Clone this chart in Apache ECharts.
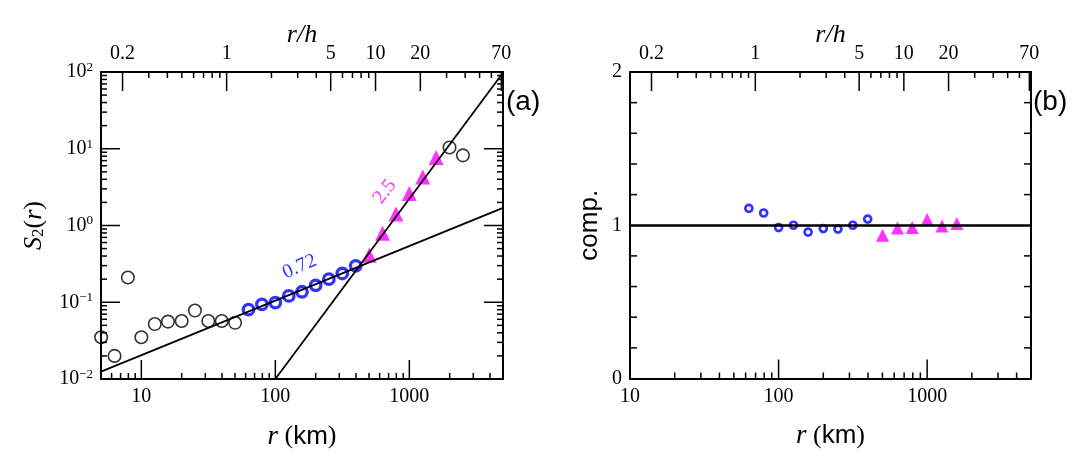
<!DOCTYPE html>
<html>
<head>
<meta charset="utf-8">
<script src="https://cdn.jsdelivr.net/npm/echarts@6.0.0/dist/echarts.min.js"></script>
<style>
    html, body { margin: 0; padding: 0; background: #fff; }
    #chart { width: 1084px; height: 458px; }
</style>
</head>
<body>
<div id="chart"></div>
<script>
// 数据：r (km) 与 S2(r)
const blackR = [5.01, 6.31, 7.94, 10.0, 12.6, 15.8, 20.0, 25.1, 31.6, 39.8, 50.1, 1995, 2512];
const blackS2 = [0.035, 0.020, 0.21, 0.035, 0.052, 0.056, 0.057, 0.078, 0.057, 0.057, 0.054, 10.4, 8.2];
const blueR = [63.1, 79.4, 100, 126, 158, 200, 251, 316, 398];
const blueS2 = [0.080, 0.094, 0.099, 0.121, 0.137, 0.166, 0.200, 0.237, 0.298];
const pinkR = [501, 631, 794, 1000, 1259, 1585];
const pinkS2 = [0.41, 0.79, 1.41, 2.62, 4.30, 7.71];

// 拟合直线 (端点)
const fitSmallR = [5, 5000];
const fitSmallS2 = [0.0125, 1.7];
const fitLargeR = [100, 5000];
const fitLargeS2 = [0.01, 98];

// (b) 补偿后的值
const blueComp = [1.11, 1.08, 0.985, 1.0, 0.955, 0.978, 0.975, 1.0, 1.04];
const pinkComp = [0.935, 0.982, 0.985, 1.037, 0.995, 1.011];
const unityLevel = 1;

// 刻度
const rMajor = [10, 100, 1000];
const rMinor = [6, 7, 8, 9, 20, 30, 40, 50, 60, 70, 80, 90, 200, 300, 400, 500, 600, 700, 800, 900, 2000, 3000, 4000];
const rhMajor = [0.2, 1, 5, 10, 20, 70];
const rhMinor = [0.3, 0.4, 0.5, 0.6, 0.7, 0.8, 0.9, 2, 3, 4, 6, 7, 8, 9, 30, 40, 50, 60];
const s2Major = [0.01, 0.1, 1, 10, 100];
const s2Minor = [0.02, 0.03, 0.04, 0.05, 0.06, 0.07, 0.08, 0.09,
                 0.2, 0.3, 0.4, 0.5, 0.6, 0.7, 0.8, 0.9,
                 2, 3, 4, 5, 6, 7, 8, 9,
                 20, 30, 40, 50, 60, 70, 80, 90];
const compLabels = [0, 1, 2];
const compTicks = [0.2, 0.4, 0.6, 0.8, 1.2, 1.4, 1.6, 1.8];

const SERIF = 'Liberation Serif';
const SANS = 'Liberation Sans';

// 两个面板的绘图区
const gridA = { left: 101, top: 72, width: 402, height: 307 };
const gridB = { left: 630, top: 72, width: 401, height: 306.5 };

// 各轴范围
const rRangeA = [5, 5000];
const rRangeB = [10, 5000];
const rhRange = [0.1433, 71.8];
const s2Range = [0.01, 100];
const compRange = [0, 2];

function frameLine() {
    return { show: true, onZero: false, lineStyle: { color: '#000', width: 2 } };
}

function zip(xs, ys) {
    return xs.map((x, i) => [x, ys[i]]);
}

// 对数轴 (只画边框和标签，刻度线另外画)
function logAxis(gridIndex, position, range, labels, formatter) {
    return {
        type: 'log',
        logBase: 10,
        gridIndex: gridIndex,
        position: position,
        min: range[0],
        max: range[1],
        axisLine: frameLine(),
        axisTick: { show: false },
        axisLabel: labels ? {
            show: true,
            customValues: labels,
            margin: 8,
            color: '#000',
            fontFamily: SERIF,
            fontSize: 20,
            formatter: formatter || (v => String(v)),
            rich: {
                b: { fontFamily: SERIF, fontSize: 20, color: '#000', lineHeight: 22 },
                e: { fontFamily: SERIF, fontSize: 13, color: '#000', verticalAlign: 'top' }
            }
        } : { show: false },
        splitLine: { show: false }
    };
}

function powerLabel(v) {
    const e = Math.round(Math.log10(v));
    return '{b|10}{e|' + (e < 0 ? '\u2212' + (-e) : e) + '}';
}

// (b) 的线性纵轴
function compAxis(position, withLabels) {
    return {
        type: 'value',
        gridIndex: 1,
        position: position,
        min: compRange[0],
        max: compRange[1],
        interval: 0.2,
        axisLine: frameLine(),
        axisTick: { show: false },
        axisLabel: withLabels ? {
            show: true, customValues: compLabels, margin: 8,
            color: '#000', fontFamily: SERIF, fontSize: 20
        } : { show: false },
        splitLine: { show: false }
    };
}

const rName = () => ({
    name: '{i|r} {n|(}{s|km}{n|)}',
    nameLocation: 'middle',
    nameGap: 44,
    nameTextStyle: {
        fontFamily: SERIF, fontSize: 26, color: '#000',
        rich: {
            i: { fontFamily: SERIF, fontStyle: 'italic', fontSize: 27, color: '#000' },
            n: { fontFamily: SERIF, fontSize: 26, color: '#000' },
            s: { fontFamily: SANS, fontSize: 26, color: '#000' }
        }
    }
});
const rhName = () => ({
    name: 'r/h',
    nameLocation: 'middle',
    nameGap: 24,
    nameMoveOverlap: false,
    nameTextStyle: { fontFamily: SERIF, fontStyle: 'italic', fontSize: 26, color: '#000' }
});

const xAxes = [
    Object.assign(logAxis(0, 'bottom', rRangeA, rMajor), rName()),
    Object.assign(logAxis(0, 'top', rhRange, rhMajor), rhName()),
    Object.assign(logAxis(1, 'bottom', rRangeB, rMajor), rName()),
    Object.assign(logAxis(1, 'top', rhRange, rhMajor), rhName())
];

const yAxes = [
    Object.assign(logAxis(0, 'left', s2Range, s2Major, powerLabel), {
        name: '{i|S}{sub|2}{n|(}{i|r}{n|)}',
        nameLocation: 'middle',
        nameGap: 54,
        nameTextStyle: {
            fontFamily: SERIF, fontSize: 26, color: '#000',
            rich: {
                i: { fontFamily: SERIF, fontStyle: 'italic', fontSize: 26, color: '#000' },
                sub: { fontFamily: SERIF, fontSize: 17, color: '#000', verticalAlign: 'bottom' },
                n: { fontFamily: SERIF, fontSize: 26, color: '#000' }
            }
        }
    }),
    logAxis(0, 'right', s2Range),
    Object.assign(compAxis('left', true), {
        name: 'comp.',
        nameLocation: 'middle',
        nameGap: 27,
        nameTextStyle: { fontFamily: SANS, fontSize: 26, color: '#000' }
    }),
    compAxis('right', false)
];

const series = [
    // (a) 数据点
    {
        type: 'scatter', xAxisIndex: 0, yAxisIndex: 0, z: 2,
        symbol: 'circle', symbolSize: 12.5,
        itemStyle: { color: 'rgba(0,0,0,0)', borderColor: '#000', borderWidth: 1.6 },
        data: zip(blackR, blackS2)
    },
    {
        type: 'scatter', xAxisIndex: 0, yAxisIndex: 0, z: 2,
        symbol: 'circle', symbolSize: 10.5,
        itemStyle: { color: 'rgba(0,0,0,0)', borderColor: '#0000ff', borderWidth: 3.3 },
        data: zip(blueR, blueS2)
    },
    {
        type: 'scatter', xAxisIndex: 0, yAxisIndex: 0, z: 2,
        symbol: 'triangle', symbolSize: 15,
        itemStyle: { color: '#ff00ff' },
        data: zip(pinkR, pinkS2)
    },
    // 拟合直线
    {
        type: 'line', xAxisIndex: 0, yAxisIndex: 0, z: 4,
        symbol: 'none', lineStyle: { color: '#000', width: 1.8 },
        data: zip(fitSmallR, fitSmallS2)
    },
    {
        type: 'line', xAxisIndex: 0, yAxisIndex: 0, z: 4,
        symbol: 'none', lineStyle: { color: '#000', width: 1.8 },
        data: zip(fitLargeR, fitLargeS2)
    },
    // 斜率标注
    {
        type: 'scatter', xAxisIndex: 0, yAxisIndex: 0, z: 5,
        symbolSize: 1, itemStyle: { color: 'rgba(0,0,0,0)' },
        label: {
            show: true, position: 'inside', formatter: '0.72', rotate: 24,
            color: '#0000ff', fontFamily: SERIF, fontSize: 20
        },
        data: [[152, 0.29]]
    },
    {
        type: 'scatter', xAxisIndex: 0, yAxisIndex: 0, z: 5,
        symbolSize: 1, itemStyle: { color: 'rgba(0,0,0,0)' },
        label: {
            show: true, position: 'inside', formatter: '2.5', rotate: 52,
            color: '#ff00ff', fontFamily: SERIF, fontSize: 20
        },
        data: [[656, 2.75]]
    },
    // (b) 补偿曲线
    {
        type: 'scatter', xAxisIndex: 2, yAxisIndex: 2, z: 2,
        symbol: 'circle', symbolSize: 7,
        itemStyle: { color: 'rgba(0,0,0,0)', borderColor: '#0000ff', borderWidth: 2.7 },
        data: zip(blueR, blueComp),
        markLine: {
            silent: true, symbol: 'none', label: { show: false },
            lineStyle: { color: '#000', width: 2.5, type: 'solid' },
            data: [{ yAxis: unityLevel }]
        }
    },
    {
        type: 'scatter', xAxisIndex: 2, yAxisIndex: 2, z: 3,
        symbol: 'triangle', symbolSize: 13,
        itemStyle: { color: '#ff00ff' },
        data: zip(pinkR, pinkComp)
    }
];

const chart = echarts.init(document.getElementById('chart'));
chart.setOption({
    animation: false,
    grid: [Object.assign({}, gridA), Object.assign({}, gridB)],
    xAxis: xAxes,
    yAxis: yAxes,
    series: series
});

// 像素换算：先用 ECharts 轴换算，拿不到有限值时按同一范围自己换算
function axisPixel(finder, v, rect, range, isX, isLog) {
    let p = null;
    try {
        p = chart.convertToPixel(finder, v);
    } catch (e) {
        p = null;
    }
    if (typeof p === 'number' && isFinite(p)) return p;
    const f = isLog
        ? (Math.log10(v) - Math.log10(range[0])) / (Math.log10(range[1]) - Math.log10(range[0]))
        : (v - range[0]) / (range[1] - range[0]);
    return isX ? rect.left + rect.width * f : rect.top + rect.height * (1 - f);
}

// 刻度线：用 graphic 画，朝框内
function buildTickGraphics() {
    const els = [];
    const add = (x1, y1, x2, y2) => els.push({
        type: 'line', z: 100, silent: true,
        shape: { x1: x1, y1: y1, x2: x2, y2: y2 },
        style: { stroke: '#000', lineWidth: 1.5 }
    });
    const xTicks = (axis, rect, range, values, yPix, len) => values.forEach(v => {
        const x = axisPixel({ xAxisIndex: axis }, v, rect, range, true, true);
        add(x, yPix, x, yPix + len);
    });
    const yTicks = (axis, rect, range, isLog, values, xPix, len) => values.forEach(v => {
        const y = axisPixel({ yAxisIndex: axis }, v, rect, range, false, isLog);
        add(xPix, y, xPix + len, y);
    });

    // (a)
    const aTop = gridA.top, aBottom = gridA.top + gridA.height;
    const aLeft = gridA.left, aRight = gridA.left + gridA.width;
    xTicks(0, gridA, rRangeA, rMajor, aBottom, -19);
    xTicks(0, gridA, rRangeA, rMinor, aBottom, -6);
    xTicks(1, gridA, rhRange, rhMajor, aTop, 19);
    xTicks(1, gridA, rhRange, rhMinor, aTop, 6);
    yTicks(0, gridA, s2Range, true, s2Major, aLeft, 19);
    yTicks(0, gridA, s2Range, true, s2Minor, aLeft, 6);
    yTicks(0, gridA, s2Range, true, s2Major, aRight, -19);
    yTicks(0, gridA, s2Range, true, s2Minor, aRight, -6);

    // (b)
    const bTop = gridB.top, bBottom = gridB.top + gridB.height;
    const bLeft = gridB.left, bRight = gridB.left + gridB.width;
    xTicks(2, gridB, rRangeB, [100, 1000], bBottom, -19);
    xTicks(2, gridB, rRangeB, rMinor.filter(v => v > 10), bBottom, -6);
    xTicks(3, gridB, rhRange, rhMajor, bTop, 19);
    xTicks(3, gridB, rhRange, rhMinor, bTop, 6);
    yTicks(2, gridB, compRange, false, compTicks, bLeft, 7);
    yTicks(2, gridB, compRange, false, compTicks, bRight, -7);
    return els;
}

chart.setOption({
    graphic: [
        { type: 'text', left: 506, top: 88, style: { text: '(a)', font: '28px "Liberation Sans"', fill: '#000' } },
        { type: 'text', left: 1033, top: 88, style: { text: '(b)', font: '28px "Liberation Sans"', fill: '#000' } }
    ].concat(buildTickGraphics())
});

window.addEventListener('resize', function() {
    chart.resize();
});
</script>
</body>
</html>
